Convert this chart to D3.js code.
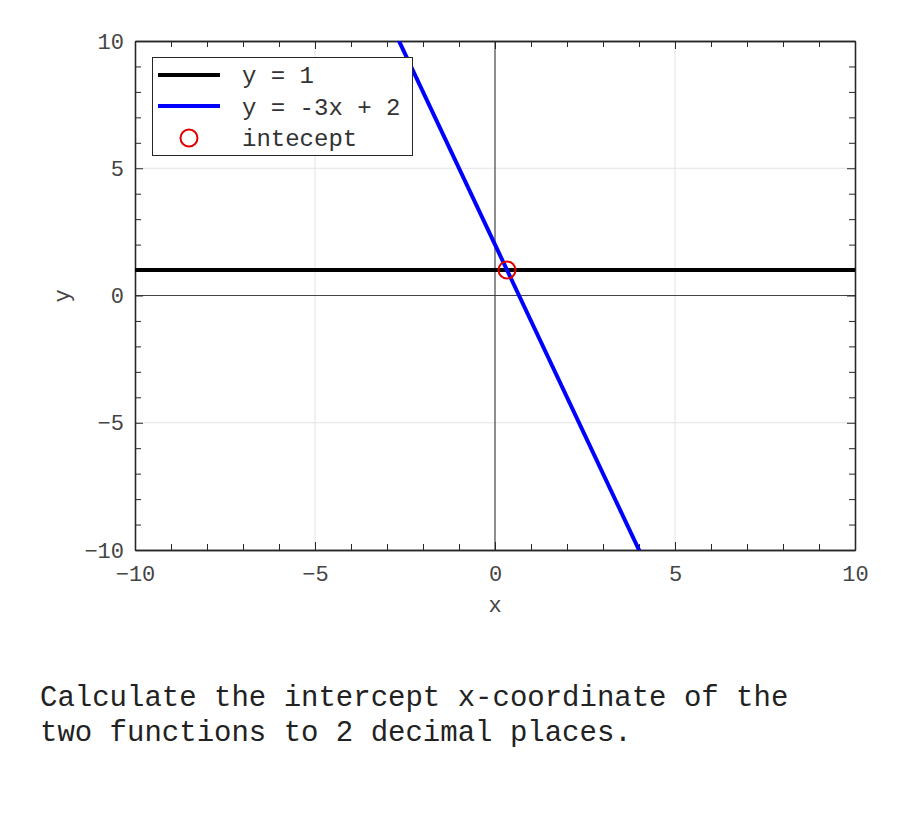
<!DOCTYPE html>
<html><head><meta charset="utf-8">
<script src="https://cdn.jsdelivr.net/npm/d3@7"></script>
<style>body{margin:0;background:#fff;} text{font-family:"Liberation Mono","DejaVu Sans Mono",monospace;}</style>
</head><body>
<svg id="c" width="900" height="825"></svg>
<script>
const xDomain = [-10, 10];
const yDomain = [-10, 10];
const majorTicks = [-10, -5, 0, 5, 10];
const minorTicks = d3.range(-10, 11, 1);
const lineXs = [-10, 10];
const hSeries = [1, 1];           // y = 1
const bSeries = [32, -28];        // y = -3x + 2 at x = -10, 10
const interceptPt = [1/3, 1];
const legendLabels = ["y = 1", "y = -3x + 2", "intecept"];
const questionLines = ["Calculate the intercept x-coordinate of the", "two functions to 2 decimal places."];

const svg = d3.select("#c");
const L = 135, R = 855, T = 41, B = 550;
const x = d3.scaleLinear().domain(xDomain).range([L, R]);
const y = d3.scaleLinear().domain(yDomain).range([B, T]);

svg.append("defs").append("clipPath").attr("id","clip")
  .append("rect").attr("x",L).attr("y",T).attr("width",R-L).attr("height",B-T);

const g = svg.append("g");
majorTicks.filter(d=>d!==-10&&d!==10&&d!==0).forEach(d=>{
  g.append("line").attr("x1",x(d)).attr("x2",x(d)).attr("y1",T).attr("y2",B).attr("stroke","#e3e3e3").attr("stroke-width",1);
  g.append("line").attr("y1",y(d)).attr("y2",y(d)).attr("x1",L).attr("x2",R).attr("stroke","#e3e3e3").attr("stroke-width",1);
});
g.append("line").attr("x1",x(0)).attr("x2",x(0)).attr("y1",T).attr("y2",B).attr("stroke","#444").attr("stroke-width",1.2);
g.append("line").attr("y1",y(0)).attr("y2",y(0)).attr("x1",L).attr("x2",R).attr("stroke","#444").attr("stroke-width",1.2);

function ticksAx(axisGen, tr, ticks, size, labels){
  const a = svg.append("g").attr("transform", tr)
    .call(axisGen.tickValues(ticks).tickSize(size).tickSizeOuter(0).tickFormat(labels ? d=>String(d).replace("-","\u2212") : ""));
  a.attr("font-size", 22).attr("font-family", "'Liberation Mono',monospace");
  a.select(".domain").attr("stroke","#262626").attr("stroke-width",1.3);
  a.selectAll(".tick line").attr("stroke","#262626");
  a.selectAll("text").attr("fill","#444");
  return a;
}
const minorOnly = minorTicks.filter(d=>!majorTicks.includes(d));
ticksAx(d3.axisBottom(x), `translate(0,${B})`, majorTicks, 8, true).selectAll("text").attr("dy","0.71em").attr("y",15);
ticksAx(d3.axisBottom(x), `translate(0,${B})`, minorOnly, 6, false);
ticksAx(d3.axisLeft(y), `translate(${L},0)`, majorTicks, 8, true).selectAll("text").attr("x",-11);
ticksAx(d3.axisLeft(y), `translate(${L},0)`, minorOnly, 6, false);
ticksAx(d3.axisTop(x), `translate(0,${T})`, majorTicks, 8, false);
ticksAx(d3.axisTop(x), `translate(0,${T})`, minorOnly, 6, false);
ticksAx(d3.axisRight(y), `translate(${R},0)`, majorTicks, 8, false);
ticksAx(d3.axisRight(y), `translate(${R},0)`, minorOnly, 6, false);
svg.selectAll(".tick line").each(function(){
  const el = d3.select(this);
  ["x2","y2"].forEach(k=>{ const v = el.attr(k); if(v!==null && +v!==0) el.attr(k, -v); });
});

const lineGen = d3.line().x(d=>x(d[0])).y(d=>y(d[1]));
const plot = svg.append("g").attr("clip-path","url(#clip)");
plot.append("path").datum(lineXs.map((v,i)=>[v,hSeries[i]])).attr("d",lineGen).attr("stroke","#000").attr("stroke-width",4).attr("fill","none");
plot.append("path").datum(lineXs.map((v,i)=>[v,bSeries[i]])).attr("d",lineGen).attr("stroke","#0000ff").attr("stroke-width",4).attr("fill","none");
plot.append("circle").attr("cx",x(interceptPt[0])).attr("cy",y(interceptPt[1])).attr("r",8.5).attr("fill","none").attr("stroke","#e00000").attr("stroke-width",2);

svg.append("text").attr("x",(L+R)/2).attr("y",612).attr("text-anchor","middle").style("font-size","22px").attr("fill","#444").text("x");
svg.append("text").attr("transform","translate(69,296) rotate(-90)").attr("text-anchor","middle").style("font-size","22px").attr("fill","#444").text("y");

const lg = svg.append("g");
lg.append("rect").attr("x",152.5).attr("y",57.5).attr("width",260).attr("height",98).attr("fill","#fff").attr("stroke","#262626").attr("stroke-width",1);
lg.append("line").attr("x1",158).attr("x2",220).attr("y1",75).attr("y2",75).attr("stroke","#000").attr("stroke-width",4);
lg.append("line").attr("x1",158).attr("x2",220).attr("y1",106).attr("y2",106).attr("stroke","#0000ff").attr("stroke-width",4);
lg.append("circle").attr("cx",189).attr("cy",138).attr("r",8.5).attr("fill","none").attr("stroke","#e00000").attr("stroke-width",2);
legendLabels.forEach((t,i)=>{
  lg.append("text").attr("x",242).attr("y",75+i*31.5).attr("dy","0.35em").style("font-size","24px").attr("fill","#333").attr("xml:space","preserve").text(t);
});

questionLines.forEach((t,i)=>{
  svg.append("text").attr("x",40).attr("y",706+i*35).style("font-size","29px").attr("fill","#222").text(t);
});
</script>
</body></html>
